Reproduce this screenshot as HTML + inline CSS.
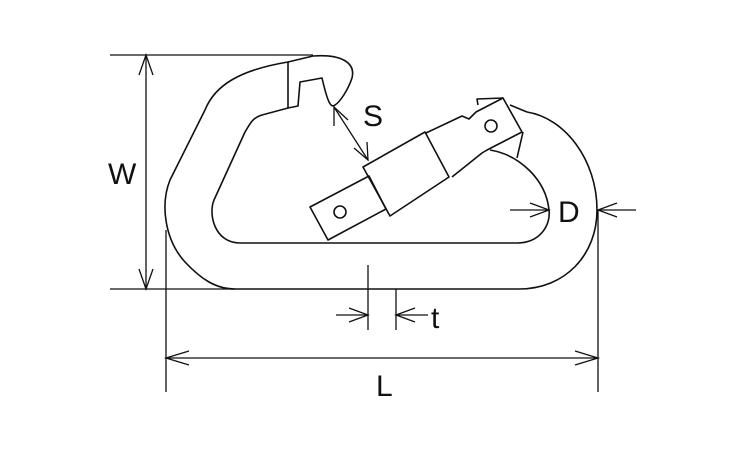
<!DOCTYPE html>
<html><head><style>
html,body{margin:0;padding:0;background:#fff;width:750px;height:450px;overflow:hidden}
text{font-family:"Liberation Sans",sans-serif;font-size:30px;fill:#111}
</style></head><body>
<svg width="750" height="450" viewBox="0 0 750 450" xmlns="http://www.w3.org/2000/svg">
<g fill="none" stroke="#111" stroke-width="1.6" stroke-linejoin="round">
<!-- outer body -->
<path d="M288,62 C240,70 215,85 205,110 L170,180 C160,205 165,240 185,262 C200,278 215,289 235,289 L519,289 C565,289 597,255 597,210 C597,160 565,118 527,112"/>
<!-- hook outer -->
<path d="M288,62 L313,56 C340,54 356,62 352,78 C348,90 340,102 335,105 C331,108 328,104 322,78 L300,82 L298,106 L288,108 Z"/>
<!-- inner body -->
<path d="M288,108 L262,115 C252,118 250,124 245,132 L214,200 C208,215 215,243 240,243 L517,243 C540,243 551,225 549,210 C546,180 520,155 490,150"/>
<!-- gate -->
<polygon points="310,207 328,240 386,209 369,176"/>
<circle cx="340" cy="212" r="6"/>
<polygon points="363,167 425,132 449,177 390,216"/>
<path d="M426,133 L462,116 L469,119 L476,112 L503,98 L522,132 L487,150 L482,153 L452,177"/>
<circle cx="491" cy="126" r="6"/>
<path d="M478,105 L477,99 L503,98"/>
<path d="M510,105 L527,112 M523,132 L517,158"/>
</g>
<g fill="none" stroke="#111" stroke-width="1.3">
<!-- W -->
<line x1="110" y1="55" x2="313" y2="55"/>
<line x1="110" y1="289" x2="235" y2="289"/>
<line x1="146" y1="55" x2="146" y2="289"/>
<path d="M139,75 L146,55 L153,75 M139,269 L146,289 L153,269"/>
<!-- S -->
<line x1="334" y1="107" x2="368" y2="160"/>
<path d="M334,126 L334,107 L348,120 M354,148 L368,160 L367,142"/>
<!-- t -->
<line x1="368" y1="265" x2="368" y2="330"/>
<line x1="396" y1="289" x2="396" y2="330"/>
<line x1="336" y1="315" x2="368" y2="315"/>
<line x1="396" y1="315" x2="428" y2="315"/>
<path d="M349,308 L368,315 L349,322 M415,308 L396,315 L415,322"/>
<!-- D -->
<line x1="510" y1="210" x2="549" y2="210"/>
<line x1="598" y1="210" x2="636" y2="210"/>
<path d="M530,203 L549,210 L530,217 M617,203 L598,210 L617,217"/>
<line x1="598" y1="210" x2="598" y2="392"/>
<!-- L -->
<line x1="166" y1="230" x2="166" y2="392"/>
<line x1="166" y1="358" x2="598" y2="358"/>
<path d="M189,351 L166,358 L189,365 M575,351 L598,358 L575,365"/>
</g>
<text x="108" y="184">W</text>
<text x="363" y="126">S</text>
<text x="431" y="328" >t</text>
<text x="558" y="222">D</text>
<text x="376" y="396">L</text>
</svg>
</body></html>
